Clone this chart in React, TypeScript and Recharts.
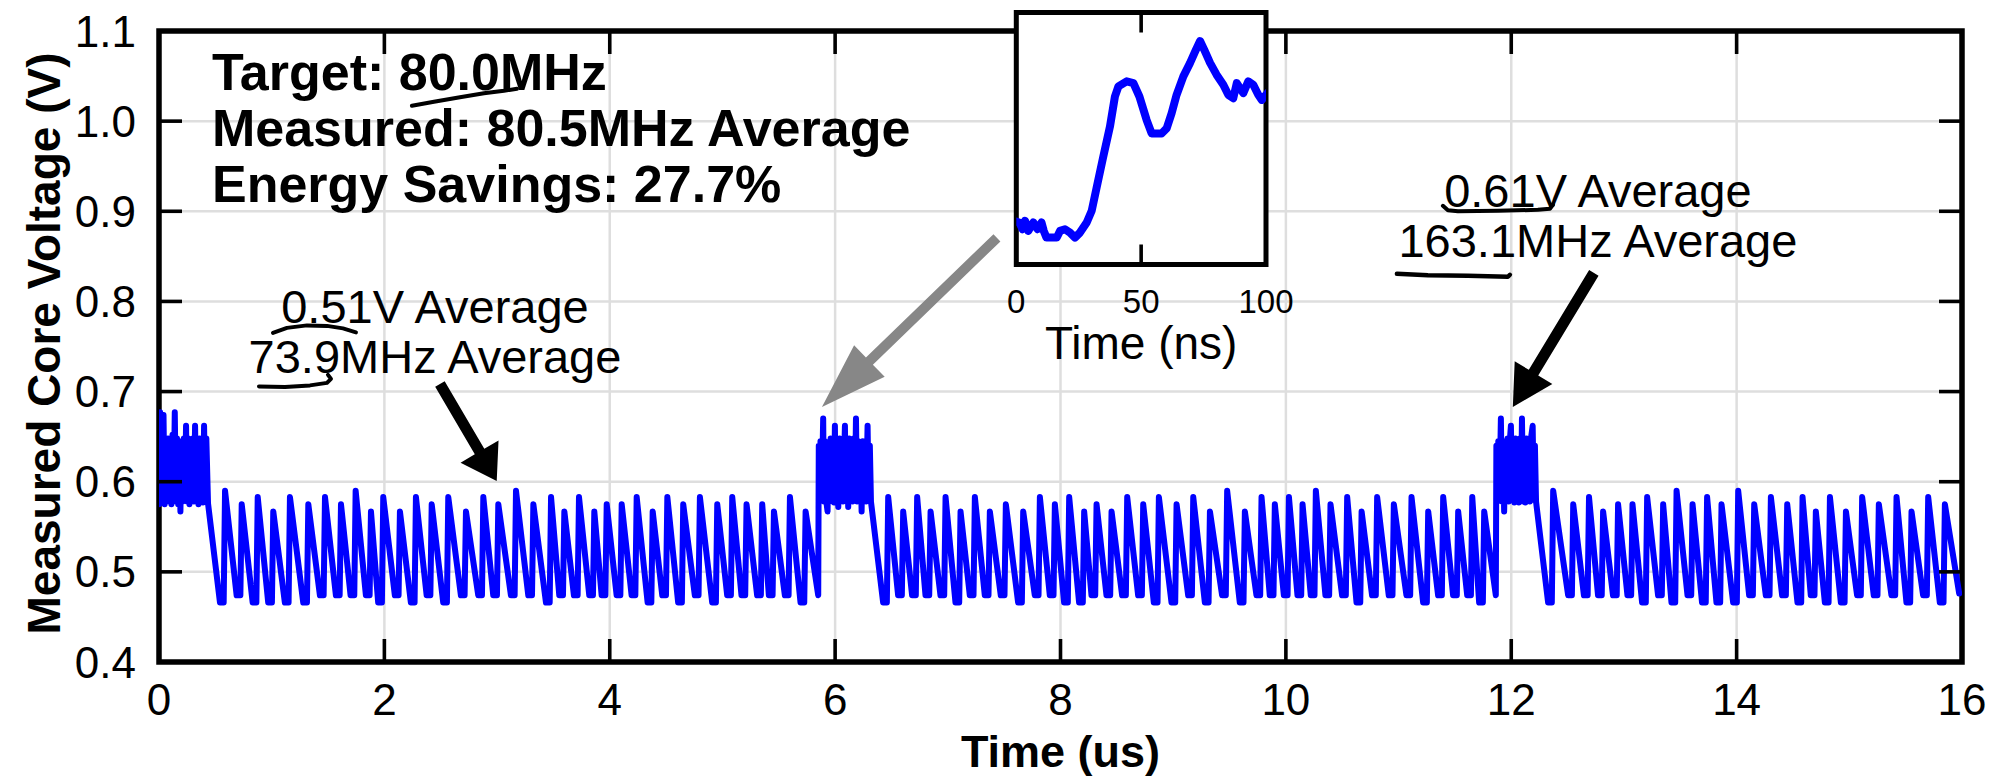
import React from 'react';
import { LineChart, Line, XAxis, YAxis, CartesianGrid, ReferenceDot, ReferenceLine, ReferenceArea } from 'recharts';

const FONT = '"Liberation Sans", Arial, Helvetica, sans-serif';

// ---------------- axis ticks ----------------
const xTicks = [0, 2, 4, 6, 8, 10, 12, 14, 16];
const yTicks = [0.4, 0.5, 0.6, 0.7, 0.8, 0.9, 1.0, 1.1];
const insetTicks = [0, 50, 100];
const insetMarkTicks = [50];

// ---------------- main waveform (time in us, volts) ----------------
const burst1: [number, number][] = [
  [0.0, 0.575], [0.01, 0.677], [0.02, 0.578], [0.03, 0.648], [0.04, 0.674], [0.05, 0.575], [0.06, 0.640],
  [0.07, 0.578], [0.08, 0.648], [0.09, 0.580], [0.10, 0.645], [0.11, 0.575], [0.12, 0.652], [0.13, 0.583],
  [0.14, 0.677], [0.15, 0.578], [0.16, 0.648], [0.17, 0.575], [0.18, 0.640], [0.19, 0.567], [0.20, 0.645],
  [0.21, 0.578], [0.22, 0.648], [0.23, 0.583], [0.24, 0.662], [0.25, 0.578], [0.26, 0.648], [0.27, 0.575],
  [0.28, 0.645], [0.29, 0.580], [0.30, 0.648], [0.31, 0.578], [0.32, 0.662], [0.33, 0.580], [0.34, 0.646],
  [0.35, 0.575], [0.36, 0.648], [0.37, 0.580], [0.38, 0.645], [0.39, 0.577], [0.40, 0.662], [0.41, 0.578],
  [0.42, 0.648], [0.435, 0.576],
];
const burst2: [number, number][] = [
  [5.85, 0.474], [5.855, 0.640], [5.86, 0.578], [5.87, 0.645], [5.88, 0.580], [5.894, 0.670], [5.90, 0.578],
  [5.91, 0.645], [5.92, 0.580], [5.933, 0.567], [5.94, 0.640], [5.95, 0.578], [5.96, 0.648], [5.97, 0.580],
  [5.98, 0.645], [5.99, 0.577], [5.998, 0.662], [6.005, 0.580], [6.015, 0.645], [6.028, 0.572], [6.04, 0.648],
  [6.05, 0.580], [6.06, 0.645], [6.07, 0.578], [6.087, 0.662], [6.095, 0.580], [6.105, 0.645], [6.116, 0.572],
  [6.125, 0.648], [6.135, 0.580], [6.145, 0.645], [6.155, 0.578], [6.165, 0.648], [6.175, 0.580], [6.185, 0.670],
  [6.195, 0.578], [6.205, 0.645], [6.215, 0.580], [6.225, 0.640], [6.235, 0.567], [6.245, 0.645], [6.255, 0.580],
  [6.265, 0.645], [6.275, 0.578], [6.288, 0.662], [6.298, 0.580], [6.308, 0.640], [6.318, 0.578],
];
const burst3: [number, number][] = [
  [11.863, 0.474], [11.868, 0.640], [11.875, 0.578], [11.885, 0.645], [11.895, 0.580], [11.908, 0.670],
  [11.918, 0.578], [11.927, 0.645], [11.937, 0.567], [11.947, 0.645], [11.957, 0.580], [11.967, 0.648],
  [11.977, 0.578], [11.987, 0.645], [11.997, 0.662], [12.007, 0.580], [12.017, 0.645], [12.027, 0.577],
  [12.037, 0.648], [12.047, 0.580], [12.057, 0.645], [12.067, 0.577], [12.077, 0.648], [12.087, 0.580],
  [12.095, 0.670], [12.105, 0.578], [12.115, 0.645], [12.125, 0.577], [12.135, 0.648], [12.145, 0.580],
  [12.155, 0.645], [12.165, 0.578], [12.175, 0.648], [12.19, 0.662], [12.2, 0.580], [12.21, 0.640], [12.22, 0.578],
];

const group1Times = [0.586, 0.734, 0.876, 1.014, 1.162, 1.325, 1.473, 1.615, 1.745, 1.881, 1.990, 2.138, 2.280,
  2.420, 2.567, 2.724, 2.878, 3.011, 3.168, 3.322, 3.479, 3.597, 3.727, 3.863, 3.973, 4.106, 4.239, 4.381, 4.511,
  4.652, 4.800, 4.954, 5.087, 5.214, 5.353, 5.457, 5.599, 5.738];
const group1Peaks = [0.590, 0.575, 0.583, 0.567, 0.583, 0.575, 0.583, 0.575, 0.590, 0.567, 0.583, 0.567, 0.583,
  0.575, 0.583, 0.567, 0.583, 0.575, 0.590, 0.575, 0.583, 0.567, 0.583, 0.567, 0.575, 0.575, 0.583, 0.567, 0.583,
  0.575, 0.583, 0.575, 0.583, 0.575, 0.575, 0.567, 0.583, 0.567];
const group1Troughs = [0.466, 0.474, 0.466, 0.466, 0.466, 0.466, 0.474, 0.474, 0.474, 0.474, 0.466, 0.474, 0.466,
  0.474, 0.466, 0.474, 0.474, 0.474, 0.474, 0.474, 0.466, 0.474, 0.474, 0.474, 0.474, 0.474, 0.474, 0.466, 0.474,
  0.466, 0.474, 0.466, 0.474, 0.474, 0.474, 0.474, 0.474, 0.466];

const group2Times = [6.471, 6.604, 6.728, 6.847, 6.980, 7.113, 7.240, 7.373, 7.515, 7.669, 7.817, 7.950, 8.077,
  8.210, 8.320, 8.453, 8.592, 8.734, 8.873, 9.030, 9.178, 9.326, 9.479, 9.636, 9.784, 9.902, 10.027, 10.148,
  10.266, 10.396, 10.544, 10.672, 10.810, 10.958, 11.115, 11.263, 11.396, 11.529, 11.654, 11.760];
const group2Peaks = [0.583, 0.567, 0.583, 0.567, 0.583, 0.567, 0.583, 0.567, 0.575, 0.567, 0.583, 0.575, 0.583,
  0.567, 0.575, 0.567, 0.583, 0.575, 0.583, 0.575, 0.583, 0.567, 0.590, 0.567, 0.583, 0.575, 0.583, 0.575,
  0.590, 0.575, 0.583, 0.567, 0.583, 0.575, 0.583, 0.567, 0.583, 0.567, 0.583, 0.567];
const group2Troughs = [0.466, 0.474, 0.474, 0.474, 0.474, 0.466, 0.474, 0.474, 0.474, 0.466, 0.474, 0.474, 0.466,
  0.466, 0.474, 0.474, 0.474, 0.474, 0.466, 0.466, 0.474, 0.466, 0.474, 0.466, 0.474, 0.474, 0.474, 0.474,
  0.474, 0.474, 0.474, 0.466, 0.474, 0.474, 0.474, 0.466, 0.474, 0.474, 0.474, 0.466];

const group3Times = [12.372, 12.550, 12.690, 12.815, 12.948, 13.076, 13.206, 13.348, 13.467, 13.609, 13.738,
  13.866, 14.014, 14.156, 14.304, 14.449, 14.585, 14.703, 14.828, 14.970, 15.114, 15.262, 15.419, 15.552,
  15.700, 15.848];
const group3Peaks = [0.590, 0.575, 0.583, 0.567, 0.575, 0.575, 0.583, 0.575, 0.590, 0.575, 0.583,
  0.575, 0.590, 0.575, 0.583, 0.575, 0.583, 0.567, 0.583, 0.567, 0.583, 0.575, 0.583, 0.567,
  0.583, 0.575];
const group3Troughs = [0.466, 0.474, 0.474, 0.474, 0.474, 0.474, 0.466, 0.474, 0.466, 0.474, 0.466,
  0.466, 0.466, 0.474, 0.474, 0.474, 0.466, 0.474, 0.466, 0.466, 0.474, 0.474, 0.474, 0.466,
  0.474, 0.466];
const endPoints: [number, number][] = [[15.975, 0.476]];

// ---------------- inset (time in ns, volts) ----------------
const insetNs = [0, 1.2, 2.5, 3.5, 4.8, 6.8, 8.5, 10.1, 11, 12.1, 14, 16.2, 17.5, 19.5, 21.5, 23.5, 25.5, 28.2,
  30.2, 32.2, 34.8, 37.5, 39.5, 40.9, 44.2, 46.9, 49.3, 52.2, 54.2, 58.2, 60.2, 62.2, 64.2, 66.9, 69.6, 72.0,
  73.6, 75.2, 77.6, 80.2, 82.9, 84.9, 86.9, 88.3, 90.9, 92.9, 94.9, 96.9, 98.3, 100];
const insetVolts = [0.5755, 0.575, 0.571, 0.576, 0.570, 0.575, 0.571, 0.575, 0.570, 0.566, 0.566, 0.566, 0.570,
  0.571, 0.569, 0.566, 0.569, 0.575, 0.582, 0.596, 0.614, 0.632, 0.650, 0.656, 0.659, 0.658, 0.650, 0.636, 0.628,
  0.628, 0.631, 0.640, 0.651, 0.662, 0.670, 0.678, 0.683, 0.678, 0.670, 0.663, 0.657, 0.651, 0.649, 0.658,
  0.652, 0.659, 0.657, 0.651, 0.648, 0.651];

// ---------------- build tables ----------------
const RISE = 0.012;
const FLAT = 0.045;
type Pt = { t: number; v: number };
function addGroup(out: Pt[], times: number[], peaks: number[], troughs: number[]) {
  times.forEach((t, i) => {
    out.push({ t: t - FLAT, v: troughs[i] });
    out.push({ t: t - RISE, v: troughs[i] });
    out.push({ t, v: peaks[i] });
  });
}
function addPairs(out: Pt[], pairs: [number, number][]) {
  pairs.forEach(([t, v]) => out.push({ t, v }));
}
const mainData: Pt[] = (() => {
  const out: Pt[] = [];
  addPairs(out, burst1);
  addGroup(out, group1Times, group1Peaks, group1Troughs);
  addPairs(out, burst2);
  addGroup(out, group2Times, group2Peaks, group2Troughs);
  addPairs(out, burst3);
  addGroup(out, group3Times, group3Peaks, group3Troughs);
  addPairs(out, endPoints);
  return out;
})();
const insetData = insetNs.map((ns, i) => ({ ns, v: insetVolts[i] }));

// inward tick marks (length expressed in axis units: ~23px)
const X_TICK_LEN = 23 / 901;   // volts
const Y_TICK_LEN = 23 / 112.7; // us
const INSET_TICK_LEN = 20 / 1680;

type Seg = { key: string; pts: { t: number; v: number }[] };
const mainTickSegs: Seg[] = [
  ...xTicks.slice(1, -1).map((t) => ({ key: `xb${t}`, pts: [{ t, v: 0.4 }, { t, v: 0.4 + X_TICK_LEN }] })),
  ...xTicks.slice(1, -1).map((t) => ({ key: `xt${t}`, pts: [{ t, v: 1.1 }, { t, v: 1.1 - X_TICK_LEN }] })),
  ...yTicks.slice(1, -1).map((v) => ({ key: `yl${v}`, pts: [{ t: 0, v }, { t: Y_TICK_LEN, v }] })),
  ...yTicks.slice(1, -1).map((v) => ({ key: `yr${v}`, pts: [{ t: 16 - Y_TICK_LEN, v }, { t: 16, v }] })),
];
const insetTickSegs = [
  ...insetMarkTicks.map((ns) => ({ key: `ib${ns}`, pts: [{ ns, v: 0.55 }, { ns, v: 0.55 + INSET_TICK_LEN }] })),
  ...insetMarkTicks.map((ns) => ({ key: `it${ns}`, pts: [{ ns, v: 0.70 }, { ns, v: 0.70 - INSET_TICK_LEN }] })),
];

// ---------------- drawing helpers ----------------
function arrowPoints(x1: number, y1: number, x2: number, y2: number, shaftW: number, headL: number, headW: number) {
  const dx = x2 - x1, dy = y2 - y1;
  const len = Math.hypot(dx, dy) || 1;
  const ux = dx / len, uy = dy / len;
  const px = -uy, py = ux;
  const bx = x2 - ux * headL, by = y2 - uy * headL;
  const pts = [
    [x1 + px * shaftW / 2, y1 + py * shaftW / 2],
    [bx + px * shaftW / 2, by + py * shaftW / 2],
    [bx + px * headW / 2, by + py * headW / 2],
    [x2, y2],
    [bx - px * headW / 2, by - py * headW / 2],
    [bx - px * shaftW / 2, by - py * shaftW / 2],
    [x1 - px * shaftW / 2, y1 - py * shaftW / 2],
  ];
  return pts.map((p) => p.join(',')).join(' ');
}
const makeArrow = (color: string, shaftW: number, headL: number, headW: number) => (p: any) => (
  <polygon points={arrowPoints(p.x1, p.y1, p.x2, p.y2, shaftW, headL, headW)} fill={color} stroke="none" />
);
function scribble(cx: number, cy: number, pts: [number, number][]) {
  return pts.map(([dx, dy], i) => `${i === 0 ? 'M' : 'L'}${cx + dx},${cy + dy}`).join(' ');
}
const inkStyle = { fill: 'none', stroke: '#000', strokeWidth: 4, strokeLinecap: 'round' as const, strokeLinejoin: 'round' as const };

const BoldBlock = (p: any) => (
  <g>
    <text x={p.cx} y={p.cy} fontFamily={FONT} fontWeight="bold" fontSize={52} fill="#000">
      <tspan x={p.cx} dy={0}>Target: 80.0MHz</tspan>
      <tspan x={p.cx} dy={56}>Measured: 80.5MHz Average</tspan>
      <tspan x={p.cx} dy={56}>Energy Savings: 27.7%</tspan>
    </text>
    <path d={scribble(p.cx, p.cy, [[200, 16], [222, 12], [248, 7.5], [272, 3.5], [292, 1], [305, -1]])} {...inkStyle} />
  </g>
);
const LowNote = (p: any) => (
  <g>
    <text x={p.cx} y={p.cy} fontFamily={FONT} fontSize={47} fill="#000" textAnchor="middle">
      <tspan x={p.cx} dy={0}>0.51V Average</tspan>
      <tspan x={p.cx} dy={50}>73.9MHz Average</tspan>
    </text>
    <path d={scribble(p.cx, p.cy, [[-162, 10], [-148, 5], [-128, 2.5], [-108, 3], [-92, 5.5], [-79, 9.5]])} {...inkStyle} />
    <path d={scribble(p.cx, p.cy, [[-176, 63.5], [-150, 64], [-125, 62.5], [-108, 60], [-104, 56], [-107, 52]])} {...inkStyle} />
  </g>
);
const HighNote = (p: any) => (
  <g>
    <text x={p.cx} y={p.cy} fontFamily={FONT} fontSize={47} fill="#000" textAnchor="middle">
      <tspan x={p.cx} dy={0}>0.61V Average</tspan>
      <tspan x={p.cx} dy={50}>163.1MHz Average</tspan>
    </text>
    <path d={scribble(p.cx, p.cy, [[-155, -1], [-150, 3.5], [-140, 4.5], [-100, 4], [-60, 3], [-48, 2], [-45, -2]])} {...inkStyle} />
    <path d={scribble(p.cx, p.cy, [[-201, 67], [-170, 68.5], [-130, 69], [-90, 70], [-88, 68]])} {...inkStyle} strokeWidth={4.5} />
  </g>
);

const XTitle = (props: any) => {
  const vb = props.viewBox || { x: 159, y: 662, width: 1803, height: 60 };
  return (
    <text x={vb.x + vb.width / 2} y={vb.y + 105} textAnchor="middle" fontFamily={FONT} fontWeight="bold" fontSize={45} fill="#000">
      Time (us)
    </text>
  );
};
const YTitle = (props: any) => {
  const vb = props.viewBox || { x: 59, y: 31, width: 100, height: 631 };
  const x = vb.x + 1;
  const y = vb.y + vb.height / 2 - 3;
  return (
    <text x={x} y={y} transform={`rotate(-90 ${x} ${y})`} textAnchor="middle" fontFamily={FONT} fontWeight="bold" fontSize={46} fill="#000">
      Measured Core Voltage (V)
    </text>
  );
};
const InsetTitle = (props: any) => {
  const vb = props.viewBox || { x: 36, y: 264.5, width: 250, height: 60 };
  return (
    <text x={vb.x + vb.width / 2} y={vb.y + 94} textAnchor="middle" fontFamily={FONT} fontSize={46} fill="#000">
      Time (ns)
    </text>
  );
};

const tickStyle = { fill: '#000', fontSize: 44, fontFamily: FONT };

export default function App() {
  return (
    <div style={{ position: 'absolute', left: 0, top: 0, width: 1998, height: 778, background: '#fff' }}>
      <LineChart width={1998} height={778} data={mainData} margin={{ top: 31, right: 36, bottom: 56, left: 59 }}>
        <CartesianGrid stroke="#dedede" strokeWidth={2.5} />
        <XAxis dataKey="t" type="number" domain={[0, 16]} ticks={xTicks} interval={0} allowDataOverflow height={60}
          axisLine={false} tickLine={false} tickSize={0} tickMargin={22} tick={tickStyle}
          label={{ content: XTitle }} />
        <YAxis type="number" domain={[0.4, 1.1]} ticks={yTicks} interval={0} allowDataOverflow width={100}
          axisLine={false} tickLine={false} tickSize={0} tickMargin={23} tick={tickStyle}
          tickFormatter={(v: number) => v.toFixed(1)} label={{ content: YTitle }} />
        <Line dataKey="v" type="linear" stroke="#0000ff" strokeWidth={6} dot={false} isAnimationActive={false}
          strokeLinejoin="round" strokeLinecap="round" />
        {mainTickSegs.map((s) => (
          <Line key={s.key} data={s.pts} dataKey="v" type="linear" stroke="#000" strokeWidth={3.6} dot={false}
            activeDot={false} isAnimationActive={false} legendType="none" />
        ))}
        <ReferenceArea x1={0} x2={16} y1={0.4} y2={1.1} fill="none" fillOpacity={0} stroke="#000" strokeWidth={5.5} />
        <ReferenceDot x={0.47} y={1.0348} r={0} shape={BoldBlock} />
        <ReferenceDot x={2.449} y={0.7762} r={0} shape={LowNote} />
        <ReferenceDot x={12.769} y={0.905} r={0} shape={HighNote} />
        <ReferenceLine segment={[{ x: 2.493, y: 0.7085 }, { x: 2.997, y: 0.6009 }]} shape={makeArrow('#000', 11, 34, 44)} />
        <ReferenceLine segment={[{ x: 7.436, y: 0.8706 }, { x: 5.883, y: 0.683 }]} shape={makeArrow('#878787', 10, 66, 44)} />
        <ReferenceLine segment={[{ x: 12.733, y: 0.8317 }, { x: 12.014, y: 0.683 }]} shape={makeArrow('#000', 11, 40, 44)} />
      </LineChart>

      <div style={{ position: 'absolute', left: 980, top: 0 }}>
        <LineChart width={340} height={370} data={insetData} margin={{ top: 12.5, right: 54, bottom: 45.5, left: 36.3 }}>
          <ReferenceArea x1={0} x2={100} y1={0.55} y2={0.70} fill="#fff" fillOpacity={1} stroke="none" />
          <XAxis dataKey="ns" type="number" domain={[0, 100]} ticks={insetTicks} interval={0} allowDataOverflow height={60}
            axisLine={false} tickLine={false} tickSize={0} tickMargin={25} tick={{ fill: '#000', fontSize: 33, fontFamily: FONT }}
            label={{ content: InsetTitle }} />
          <YAxis type="number" domain={[0.55, 0.70]} hide width={0} allowDataOverflow />
          <Line dataKey="v" type="linear" stroke="#0000ff" strokeWidth={8} dot={false} isAnimationActive={false}
            strokeLinejoin="round" strokeLinecap="square" />
          {insetTickSegs.map((s) => (
            <Line key={s.key} data={s.pts} dataKey="v" type="linear" stroke="#000" strokeWidth={3.6} dot={false}
              activeDot={false} isAnimationActive={false} legendType="none" />
          ))}
          <ReferenceArea x1={0} x2={100} y1={0.55} y2={0.70} fill="none" fillOpacity={0} stroke="#000" strokeWidth={5} />
        </LineChart>
      </div>
    </div>
  );
}
